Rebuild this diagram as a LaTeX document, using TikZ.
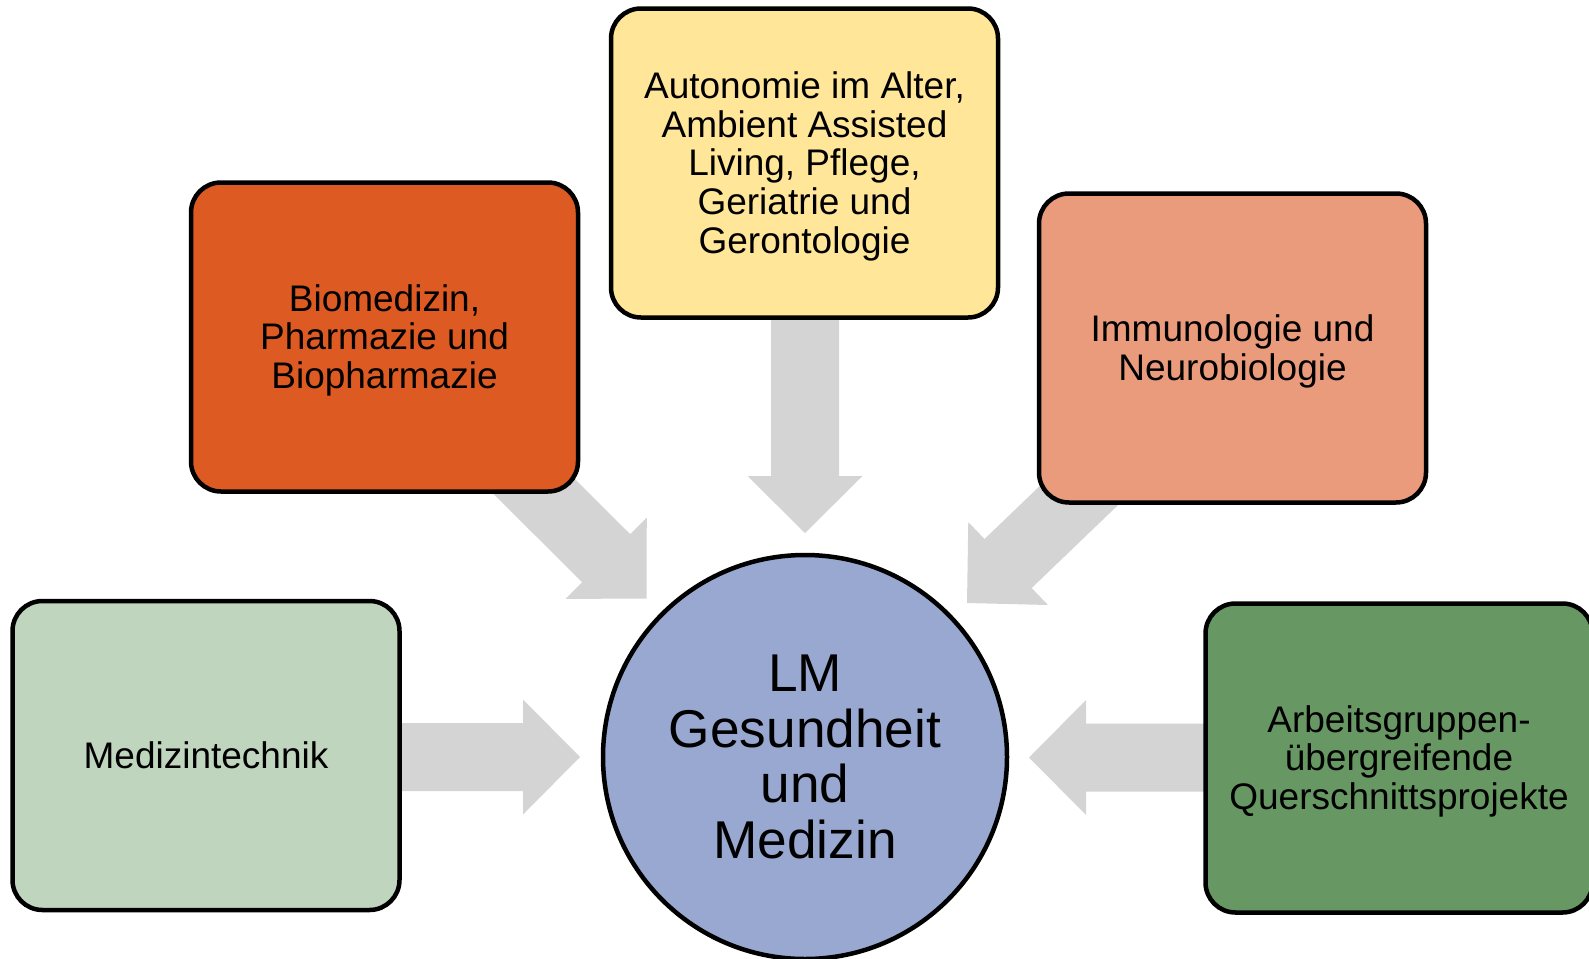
\documentclass[tikz,border=0pt]{standalone}
\usepackage{fontspec}
\setmainfont{Liberation Sans}
\usetikzlibrary{calc,backgrounds}
\definecolor{cbio}{HTML}{DD5A23}
\definecolor{caut}{HTML}{FFE699}
\definecolor{cimm}{HTML}{E99B7B}
\definecolor{cmed}{HTML}{BFD5BE}
\definecolor{carb}{HTML}{679762}
\definecolor{ccen}{HTML}{98A8D0}
\definecolor{carrow}{HTML}{D4D4D4}
\newcommand{\tstrut}{\rule{0pt}{16.7pt}}
\newcommand{\bstrut}{\rule[-3.9pt]{0pt}{0pt}}
\tikzset{
  topic/.style={draw=black, line width=2.25pt, rounded corners=15pt,
    minimum width=193.5pt, minimum height=154.5pt, align=center,
    inner sep=0pt, font={\fontsize{18.5pt}{19.4pt}\selectfont}},
  hub/.style={circle, draw=black, line width=2.25pt, fill=ccen,
    minimum size=202pt, align=center, inner sep=0pt,
    font={\fontsize{26.6pt}{27.7pt}\selectfont}},
  blockarrow/.style={fill=carrow, draw=none}
}
% #1 tail, #2 tip
\newcommand{\blockarr}[2]{%
  \coordinate (H) at ($(#2)!28.5pt!(#1)$);
  \fill[blockarrow] (#2)
    -- ($(H)!28.75pt!90:(#2)$)
    -- ($(H)!17pt!90:(#2)$)
    -- ($(#1)!17pt!90:(#2)$)
    -- ($(#1)!17pt!-90:(#2)$)
    -- ($(H)!17pt!-90:(#2)$)
    -- ($(H)!28.75pt!-90:(#2)$)
    -- cycle;}
\begin{document}
\begin{tikzpicture}[x=0.5pt,y=-0.5pt]
\useasboundingbox (0,0) rectangle (1589,958);
\clip (0,0) rectangle (1589,958);

\node[hub] (hub) at (805,757) {LM\\Gesundheit\\und\\Medizin};
\node[topic, fill=cmed] (med) at (206,755.5) {\tstrut Medizintechnik\bstrut};
\node[topic, fill=cbio] (bio) at (384.5,337) {\tstrut Biomedizin,\\Pharmazie und\\Biopharmazie\bstrut};
\node[topic, fill=caut] (aut) at (804.5,163) {\tstrut Autonomie im Alter,\\Ambient Assisted\\Living, Pflege,\\Geriatrie und\\Gerontologie\bstrut};
\node[topic, fill=cimm] (imm) at (1232.5,348) {\tstrut Immunologie und\\Neurobiologie\bstrut};
\node[topic, fill=carb] (arb) at (1399,758) {\tstrut Arbeitsgruppen-\\übergreifende\\Querschnittsprojekte\bstrut};

\coordinate (tipL) at (580,757);
\coordinate (tipR) at (1029,757.5);
\coordinate (tipT) at (805,533);
\coordinate (tipUL) at (646.5,598.5);
\coordinate (tipUR) at (967,603);
\coordinate (tailL) at (med.center |- tipL);
\coordinate (tailR) at (arb.center |- tipR);
\coordinate (tailT) at (tipT |- aut.center);

\begin{scope}[on background layer]
\blockarr{tailL}{tipL}
\blockarr{tailR}{tipR}
\blockarr{tailT}{tipT}
\blockarr{bio.center}{tipUL}
\blockarr{imm.center}{tipUR}
\end{scope}
\end{tikzpicture}
\end{document}
